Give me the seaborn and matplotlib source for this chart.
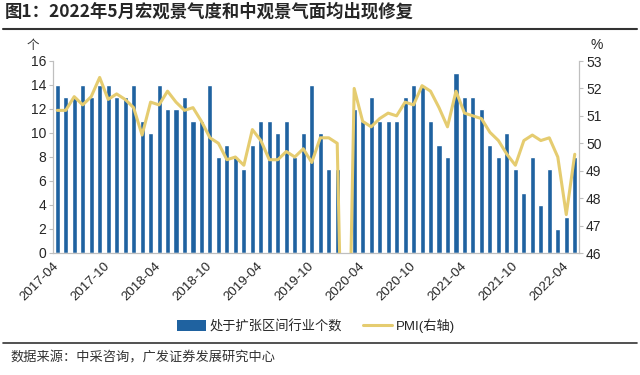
import numpy as np
import pandas as pd
import matplotlib
matplotlib.use('Agg')
import matplotlib.pyplot as plt
import seaborn as sns
from matplotlib.patches import Patch
from matplotlib.lines import Line2D

# monthly categories 2017-04 .. 2022-05
months = pd.period_range('2017-04', '2022-05', freq='M').strftime('%Y-%m').tolist()

# number of industries in expansion (left axis)
counts = [14, 13, 13, 14, 13, 14, 14, 13, 13,
          14, 11, 10, 14, 12, 12, 13, 11, 11, 14, 8, 9,
          8, 7, 9, 11, 11, 10, 11, 8, 10, 14, 10, 7,
          7, 0, 12, 11, 13, 11, 11, 11, 13, 14, 14, 11,
          9, 8, 15, 13, 13, 12, 9, 8, 10, 7, 5, 8,
          4, 7, 2, 3, 8]

# manufacturing PMI (right axis), Feb 2020 falls below the axis
pmi = [51.2, 51.2, 51.7, 51.4, 51.7, 52.4, 51.6, 51.8, 51.6,
       51.3, 50.3, 51.5, 51.4, 51.9, 51.5, 51.2, 51.3, 50.8, 50.2, 50.0, 49.4,
       49.5, 49.2, 50.5, 50.1, 49.4, 49.4, 49.7, 49.5, 49.8, 49.3, 50.2, 50.2,
       50.0, 35.7, 52.0, 50.8, 50.6, 50.9, 51.1, 51.0, 51.5, 51.4, 52.1, 51.9,
       51.3, 50.6, 51.9, 51.1, 51.0, 50.9, 50.4, 50.1, 49.6, 49.2, 50.1, 50.3,
       50.1, 50.2, 49.5, 47.4, 49.6]

tick_labels = months[::6]

BAR = '#1f62a0'
LINE = '#e5cc70'
GRAY = '#bfbfbf'

sns.set_theme(style='white')
plt.rcParams['font.family'] = ['Liberation Sans', 'Noto Sans CJK SC']
plt.rcParams['axes.unicode_minus'] = False

fig = plt.figure(figsize=(6.4, 3.75), dpi=100)
ax = fig.add_axes([53 / 640, 1 - 253 / 375, 526 / 640, 192 / 375])

sns.barplot(x=months, y=counts, color=BAR, saturation=1, width=0.6, ax=ax)
ax.set_xlim(-0.5, len(months) - 0.5)
ax.set_ylim(0, 16)
ax.set_yticks(range(0, 17, 2))
ax.set_xticks(np.arange(0, len(months), 6) - 0.5)
ax.set_xticklabels(tick_labels, rotation=45, ha='right', rotation_mode='anchor')
ax.set_xlabel('')
ax.set_ylabel('')

ax2 = ax.twinx()
sns.lineplot(x=np.arange(len(months)), y=pmi, color=LINE, lw=2.2, ax=ax2)
ax2.set_ylim(46, 53)
ax2.set_yticks(range(46, 54))
ax2.set_ylabel('')

for a in (ax, ax2):
    a.spines['top'].set_visible(False)
    for s in ('left', 'right', 'bottom'):
        a.spines[s].set_color(GRAY)
        a.spines[s].set_linewidth(0.8)
    a.tick_params(axis='both', length=3, width=0.8, color=GRAY, labelsize=10, pad=2)
ax.tick_params(axis='x', labelsize=9.5)
ax.tick_params(axis='y', left=True)
ax2.tick_params(axis='y', right=True)

# title and rules
fig.text(0.008, 1 - 12 / 375, '图1：2022年5月宏观景气度和中观景气面均出现修复',
         fontsize=12.5, fontweight='bold', va='center', ha='left',
         family=['Noto Sans CJK SC'])
fig.add_artist(Line2D([0.005, 0.995], [1 - 29 / 375] * 2, color='#333333', lw=1.5))
fig.add_artist(Line2D([0.005, 0.995], [1 - 343 / 375] * 2, color='#333333', lw=1.2))

fig.text(33 / 640, 1 - 45 / 375, '个', fontsize=9, va='center', ha='center',
         family=['Noto Sans CJK SC'], color='#333333')
fig.text(597 / 640, 1 - 45 / 375, '%', fontsize=10, va='center', ha='center')

handles = [Patch(facecolor=BAR, edgecolor='none'), Line2D([0], [0], color=LINE, lw=2.2)]
labels = ['处于扩张区间行业个数', 'PMI(右轴)']
fig.legend(handles, labels, loc='center', bbox_to_anchor=(316 / 640, 1 - 326 / 375),
           ncol=2, frameon=False, fontsize=9.5, handlelength=2.2, handleheight=0.9,
           handletextpad=0.3, columnspacing=1.6)

fig.text(0.016, 1 - 358 / 375, '数据来源：中采咨询，广发证券发展研究中心', fontsize=9.5,
         va='center', ha='left', family=['Noto Sans CJK SC'], color='#333333')

fig.savefig('out.png', dpi=100)
